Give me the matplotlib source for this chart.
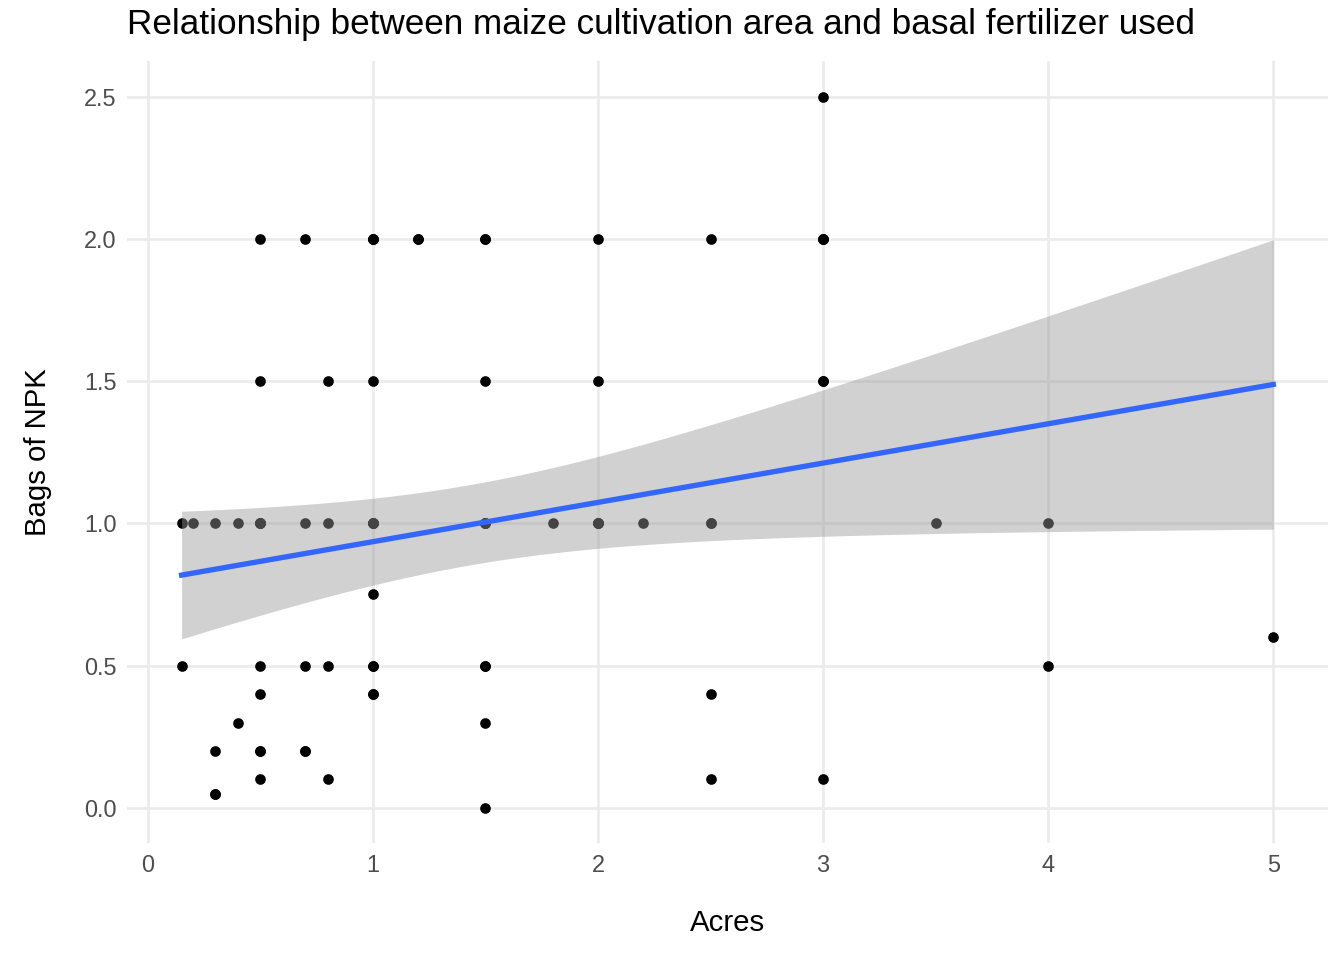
import numpy as np
import matplotlib.pyplot as plt

plt.rcParams['font.family'] = ['Liberation Sans', 'DejaVu Sans']

# acres and bags of NPK (duplicates where dots look heavier)
acres = [0.15, 0.15, 0.2, 0.3, 0.3, 0.3, 0.3, 0.4, 0.4,
         0.5, 0.5, 0.5, 0.5, 0.5, 0.5, 0.5, 0.5, 0.5, 0.5, 0.5,
         0.7, 0.7, 0.7, 0.7, 0.7, 0.8, 0.8, 0.8, 0.8,
         1.0, 1.0, 1.0, 1.0, 1.0, 1.0, 1.0, 1.0, 1.0, 1.0, 1.0, 1.0, 1.0,
         1.2, 1.2, 1.5, 1.5, 1.5, 1.5, 1.5, 1.5, 1.5, 1.5, 1.5, 1.5, 1.5,
         1.8, 2.0, 2.0, 2.0, 2.0, 2.0, 2.0, 2.2, 2.5, 2.5, 2.5, 2.5, 2.5,
         3.0, 3.0, 3.0, 3.0, 3.0, 3.0, 3.0, 3.5, 4.0, 4.0, 5.0]
bags = [1.0, 0.5, 1.0, 1.0, 0.2, 0.05, 0.05, 1.0, 0.3,
        2.0, 1.5, 1.0, 0.5, 0.4, 0.2, 0.2, 0.1, 1.0, 1.0, 1.0,
        2.0, 1.0, 0.5, 0.2, 0.2, 1.5, 1.0, 0.5, 0.1,
        2.0, 2.0, 2.0, 1.5, 1.0, 1.0, 1.0, 1.0, 0.75, 0.5, 0.5, 0.4, 0.4,
        2.0, 2.0, 2.0, 2.0, 1.5, 1.0, 1.0, 1.0, 1.0, 0.5, 0.5, 0.3, 0.0,
        1.0, 2.0, 1.5, 1.0, 1.0, 1.0, 1.0, 1.0, 2.0, 1.0, 1.0, 0.4, 0.1,
        2.5, 2.0, 2.0, 2.0, 1.5, 1.5, 0.1, 1.0, 1.0, 0.5, 0.6]

x = np.array(acres)
y = np.array(bags)
n = len(x)

# linear fit with 95% confidence band, like geom_smooth(method="lm")
slope, intercept = np.polyfit(x, y, 1)
xs = np.linspace(x.min(), x.max(), 200)
fit = intercept + slope * xs
resid = y - (intercept + slope * x)
s = np.sqrt(np.sum(resid ** 2) / (n - 2))
se = s * np.sqrt(1 / n + (xs - x.mean()) ** 2 / np.sum((x - x.mean()) ** 2))
tcrit = 1.992
lo, hi = fit - tcrit * se, fit + tcrit * se

fig = plt.figure(figsize=(7, 5), dpi=192, facecolor='white')
ax = fig.add_axes([0.0945, 0.1214, 0.8935, 0.8151])
ax.set_facecolor('white')

ax.scatter(x, y, s=16, color='black', zorder=2, linewidths=0)
ax.fill_between(xs, lo, hi, color='#999999', alpha=0.45, linewidth=0, zorder=3)
ax.plot(xs, fit, color='#3366FF', linewidth=2, zorder=4)

ax.set_xlim(-0.0925, 5.2425)
ax.set_ylim(-0.125, 2.625)
ax.set_xticks([0, 1, 2, 3, 4, 5])
ax.set_yticks([0.0, 0.5, 1.0, 1.5, 2.0, 2.5])
ax.set_yticklabels(['0.0', '0.5', '1.0', '1.5', '2.0', '2.5'])
ax.grid(which='major', color='#EBEBEB', linewidth=1.0)
ax.set_axisbelow(True)
for sp in ax.spines.values():
    sp.set_visible(False)
ax.tick_params(which='both', length=0, labelsize=8.8, labelcolor='#4D4D4D', pad=4)

ax.set_xlabel('Acres', fontsize=11, labelpad=12)
ax.set_ylabel('Bags of NPK', fontsize=11, labelpad=12)
ax.set_title('Relationship between maize cultivation area and basal fertilizer used',
             fontsize=13.2, loc='left', pad=10)

fig.savefig('out.png', dpi=192)
